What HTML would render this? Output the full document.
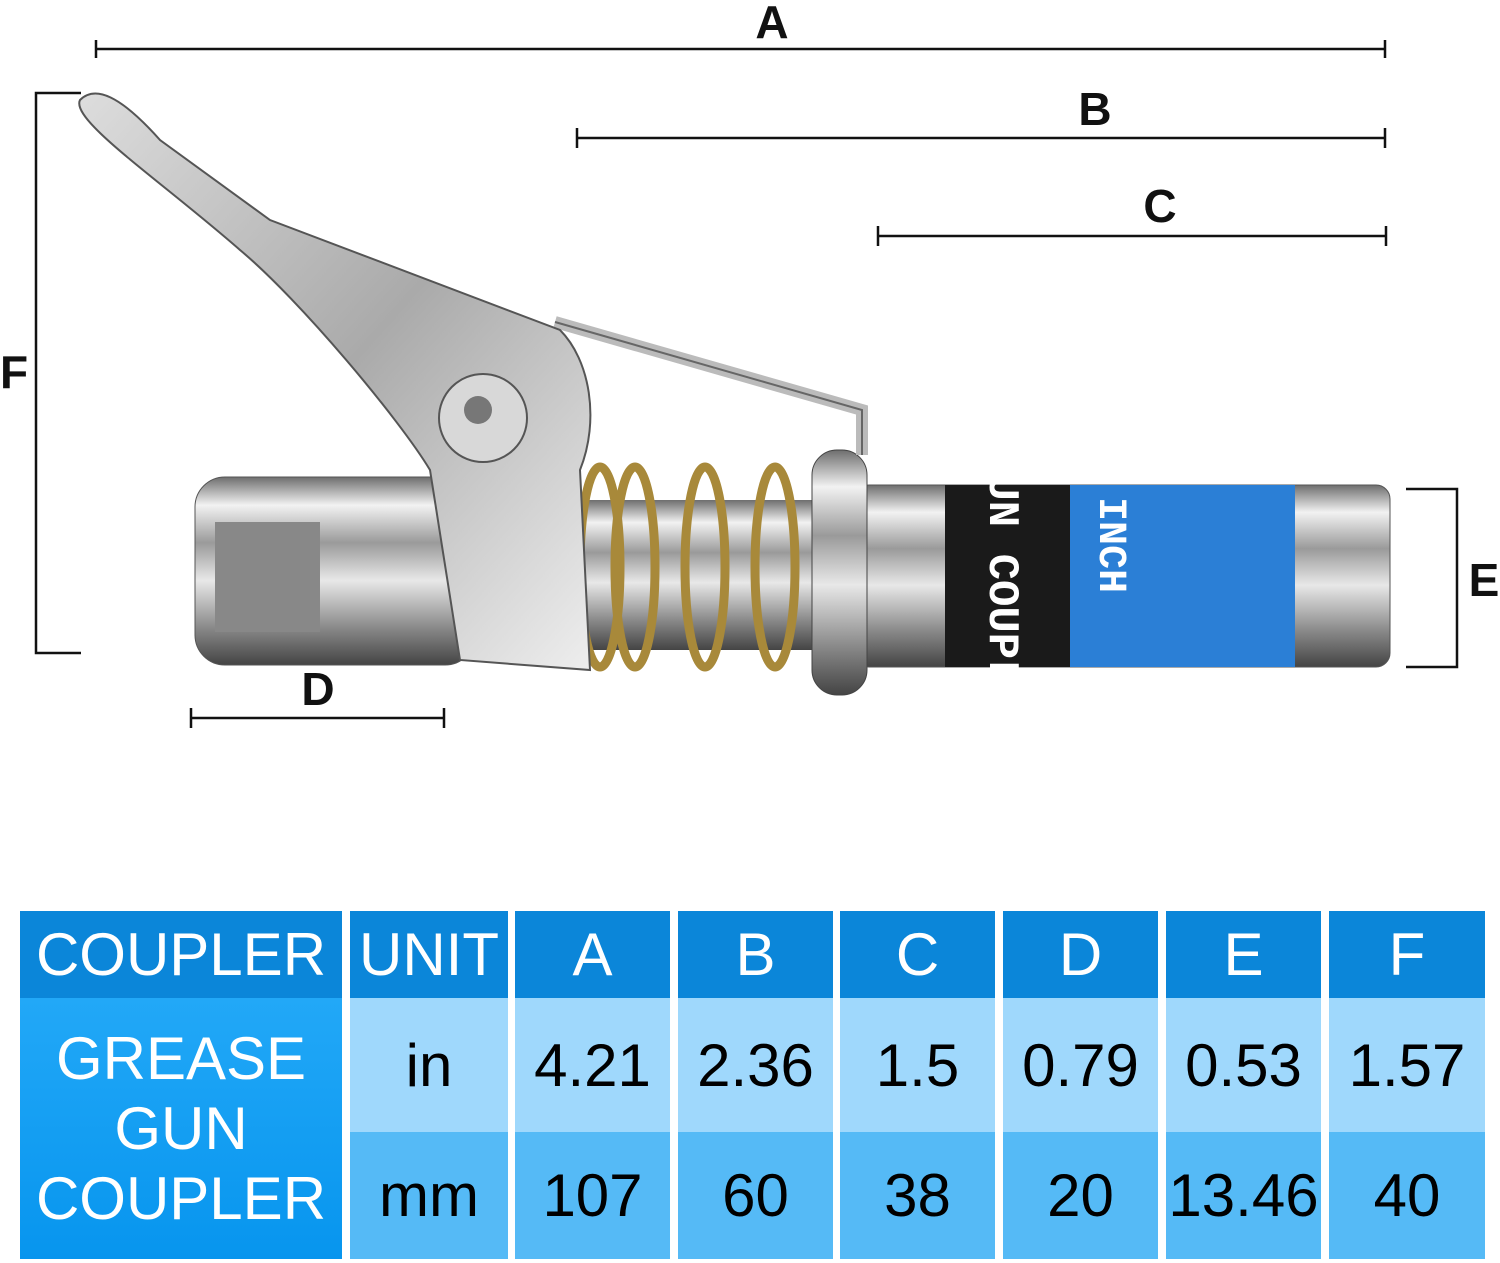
<!DOCTYPE html>
<html><head><meta charset="utf-8"><style>
body{margin:0;background:#fff;width:1500px;height:1263px;overflow:hidden;position:relative;font-family:"Liberation Sans",sans-serif}
.c{position:absolute;display:flex;align-items:center;justify-content:center;font-size:60px;color:#000;text-align:center}
.h{background:#0b86d9;color:#fff}
.i{background:#9fd8fc}
.m{background:#55baf6}
</style></head><body>
<svg width="1500" height="900" style="position:absolute;left:0;top:0">
<defs>
<linearGradient id="met" x1="0" y1="0" x2="0" y2="1">
<stop offset="0" stop-color="#6e6e6e"/><stop offset=".15" stop-color="#f2f2f2"/><stop offset=".35" stop-color="#9a9a9a"/><stop offset=".55" stop-color="#e8e8e8"/><stop offset=".8" stop-color="#8a8a8a"/><stop offset="1" stop-color="#444"/></linearGradient>
<linearGradient id="lev" x1="0" y1="0" x2="1" y2="1">
<stop offset="0" stop-color="#ddd"/><stop offset=".5" stop-color="#aaa"/><stop offset="1" stop-color="#eee"/></linearGradient>
</defs>
<g stroke="#111" stroke-width="2.5" fill="none">
<path d="M96 49H1385M96 40V58M1385 40V58"/>
<path d="M577 138H1385M577 128V148M1385 128V148"/>
<path d="M878 236H1386M878 226V246M1386 226V246"/>
<path d="M191 718H444M191 708V728M444 708V728"/>
<path d="M81 93H36V653H81"/>
<path d="M1406 489H1457V667H1406"/>
</g>
<g font-family="Liberation Sans" font-weight="bold" font-size="46" fill="#111" text-anchor="middle">
<text x="772" y="38">A</text><text x="1095" y="125">B</text><text x="1160" y="222">C</text>
<text x="318" y="705">D</text><text x="14" y="388">F</text><text x="1484" y="596">E</text></g>
<rect x="195" y="477" width="280" height="188" rx="30" fill="url(#met)" stroke="#555"/>
<rect x="215" y="522" width="105" height="110" fill="#888"/>
<rect x="855" y="485" width="535" height="182" rx="14" fill="url(#met)" stroke="#555"/>
<rect x="945" y="485" width="125" height="182" fill="#1a1a1a"/>
<rect x="1070" y="485" width="225" height="182" fill="#2b7fd6"/>
<text x="990" y="580" fill="#fff" font-size="44" font-weight="bold" font-family="Liberation Mono" transform="rotate(90 990 580)" text-anchor="middle">UN COUPL</text>
<text x="1100" y="545" fill="#fff" font-size="40" font-weight="bold" font-family="Liberation Mono" transform="rotate(90 1100 545)" text-anchor="middle">INCH</text>
<rect x="570" y="500" width="290" height="150" fill="url(#met)"/>
<g fill="none" stroke="#a8893a" stroke-width="9">
<ellipse cx="600" cy="567" rx="20" ry="100"/><ellipse cx="635" cy="567" rx="20" ry="100"/><ellipse cx="705" cy="567" rx="20" ry="100"/><ellipse cx="775" cy="567" rx="20" ry="100"/></g>
<rect x="812" y="450" width="55" height="245" rx="25" fill="url(#met)" stroke="#444"/>
<path d="M555 322L862 410V455" fill="none" stroke="#bbb" stroke-width="12"/>
<path d="M555 322L862 410V455" fill="none" stroke="#666" stroke-width="2"/>
<path d="M80 100C95 85 120 95 160 140L270 220 560 330C590 360 600 420 580 470L590 670 460 660 430 470C400 420 300 300 240 250 160 180 70 120 80 100Z" fill="url(#lev)" stroke="#555" stroke-width="2"/>
<circle cx="483" cy="418" r="44" fill="#d8d8d8" stroke="#555" stroke-width="2"/>
<circle cx="478" cy="410" r="14" fill="#777"/>
</svg>
<div class="c h" style="left:20px;top:911px;width:322px;height:87px">COUPLER</div>
<div class="c" style="left:20px;top:998px;width:322px;height:261px;background:linear-gradient(#22a8f7,#0795ee);color:#fff;line-height:70px;font-size:60px">GREASE<br>GUN<br>COUPLER</div>
<div class="c h" style="left:350px;top:911px;width:158px;height:87px">UNIT</div>
<div class="c h" style="left:515px;top:911px;width:155px;height:87px">A</div>
<div class="c h" style="left:678px;top:911px;width:155px;height:87px">B</div>
<div class="c h" style="left:840px;top:911px;width:155px;height:87px">C</div>
<div class="c h" style="left:1003px;top:911px;width:155px;height:87px">D</div>
<div class="c h" style="left:1166px;top:911px;width:155px;height:87px">E</div>
<div class="c h" style="left:1329px;top:911px;width:156px;height:87px">F</div>
<div class="c i" style="left:350px;top:998px;width:158px;height:134px">in</div>
<div class="c i" style="left:515px;top:998px;width:155px;height:134px">4.21</div>
<div class="c i" style="left:678px;top:998px;width:155px;height:134px">2.36</div>
<div class="c i" style="left:840px;top:998px;width:155px;height:134px">1.5</div>
<div class="c i" style="left:1003px;top:998px;width:155px;height:134px">0.79</div>
<div class="c i" style="left:1166px;top:998px;width:155px;height:134px">0.53</div>
<div class="c i" style="left:1329px;top:998px;width:156px;height:134px">1.57</div>
<div class="c m" style="left:350px;top:1132px;width:158px;height:127px">mm</div>
<div class="c m" style="left:515px;top:1132px;width:155px;height:127px">107</div>
<div class="c m" style="left:678px;top:1132px;width:155px;height:127px">60</div>
<div class="c m" style="left:840px;top:1132px;width:155px;height:127px">38</div>
<div class="c m" style="left:1003px;top:1132px;width:155px;height:127px">20</div>
<div class="c m" style="left:1166px;top:1132px;width:155px;height:127px">13.46</div>
<div class="c m" style="left:1329px;top:1132px;width:156px;height:127px">40</div>
</body></html>
